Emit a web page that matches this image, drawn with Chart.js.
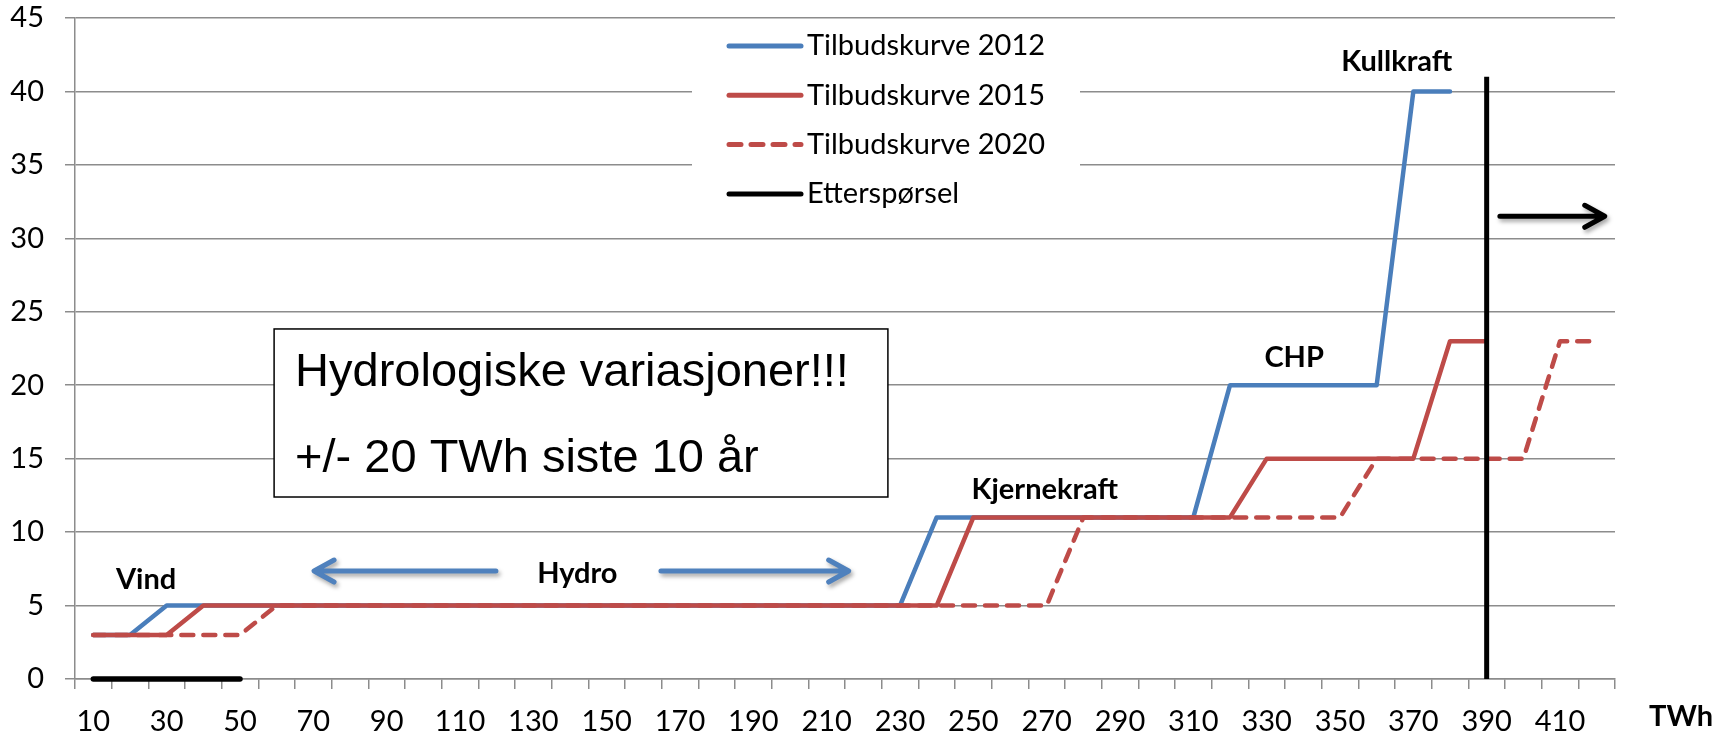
<!DOCTYPE html>
<html>
<head>
<meta charset="utf-8">
<script src="https://cdn.jsdelivr.net/npm/chart.js@4.4.0/dist/chart.umd.min.js"></script>
<style>
html, body { margin: 0; padding: 0; background: #fff; }
#wrap { width: 1727px; height: 736px; }
</style>
</head>
<body>
<div id="wrap"><canvas id="chart"></canvas></div>
<script>
// x categories (TWh)
const labels = ['10','20','30','40','50','60','70','80','90','100','110','120','130','140',
    '150','160','170','180','190','200','210','220','230','240','250','260','270','280',
    '290','300','310','320','330','340','350','360','370','380','390','400','410','420'];

// supply curves
const supply2012 = [3,3, 5,5,5,5,5,5,5,5,5,5, 5,5,5,5,5,5,5,5,5,5,5,
    11,11,11,11,11,11,11,11, 20,20,20,20,20, 40,40, null,null,null,null];
const supply2015 = [3,3,3, 5,5,5,5,5,5,5,5,5,5, 5,5,5,5,5,5,5,5,5,5,5,
    11,11,11,11,11,11,11,11, 15,15,15,15,15, 23,23, null,null,null];
const supply2020 = [3,3,3,3,3, 5,5,5,5,5,5,5,5,5,5, 5,5,5,5,5,5,5,5,5,5,5,5,
    11,11,11,11,11,11,11,11, 15,15,15,15,15, 23,23];
const demand = [0,0,0,0,0, null,null,null,null,null,null,null,null,null,null,null,null,
    null,null,null,null,null,null,null,null,null,null,null,null,null,null,null,null,
    null,null,null,null,null,null,null,null,null];

// vertical demand line
const demandLineX = '390';
const demandLineY = [0, 41];

const yTicks = [0, 5, 10, 15, 20, 25, 30, 35, 40, 45];

// text notes (category index, value)
const notes = [
    { text: 'Vind', x: 1.44, y: 6.74 },
    { text: 'Hydro', x: 13.2, y: 7.2 },
    { text: 'Kjernekraft', x: 25.95, y: 12.87 },
    { text: 'CHP', x: 32.75, y: 21.85 },
    { text: 'Kullkraft', x: 35.55, y: 42.0 }
];

// arrows (category index from/to, value)
const arrows = [
    { x1: 10.98, x2: 6.02, y: 7.35, color: '#4f81bd' },
    { x1: 15.48, x2: 20.6, y: 7.35, color: '#4f81bd' },
    { x1: 38.36, x2: 41.22, y: 31.5, color: '#000000' }
];

const boxLines = ['Hydrologiske variasjoner!!!', '+/- 20 TWh siste 10 år'];
const boxRange = { x1: 4.93, x2: 21.67, y1: 23.83, y2: 12.39 };

const BLUE = '#4a7ebb';
const RED = '#be4b48';
const GRID = '#8c8c8c';

Chart.defaults.font.family = 'Lato, "Open Sans", sans-serif';
Chart.defaults.font.size = 29;
Chart.defaults.color = '#000';

function drawArrow(ctx, x1, y, x2, color) {
    const dir = Math.sign(x2 - x1);
    ctx.save();
    ctx.strokeStyle = color;
    ctx.lineWidth = 5;
    ctx.lineCap = 'round';
    ctx.lineJoin = 'round';
    ctx.shadowColor = 'rgba(0,0,0,0.35)';
    ctx.shadowBlur = 4;
    ctx.shadowOffsetX = 2;
    ctx.shadowOffsetY = 3;
    ctx.beginPath();
    ctx.moveTo(x1, y);
    ctx.lineTo(x2 - dir * 2, y);
    ctx.moveTo(x2 - dir * 20, y - 11);
    ctx.lineTo(x2, y);
    ctx.lineTo(x2 - dir * 20, y + 11);
    ctx.stroke();
    ctx.restore();
}

const overlay = {
    id: 'overlay',
    beforeDatasetsDraw(chart) {
        const ctx = chart.ctx, a = chart.chartArea;
        // legend panel covers the gridlines
        ctx.save();
        ctx.fillStyle = '#fff';
        ctx.fillRect(a.left + 617, a.top + 4, 388, 198);
        ctx.restore();
    },
    afterDatasetsDraw(chart) {
        const ctx = chart.ctx, a = chart.chartArea;
        const xs = chart.scales.x, ys = chart.scales.y;

        // legend
        ctx.save();
        let row = 0;
        chart.data.datasets.forEach(ds => {
            if (ds.hideInLegend) return;
            const y = a.top + 28 + row * 49.3;
            ctx.beginPath();
            ctx.strokeStyle = ds.borderColor;
            ctx.lineWidth = 5;
            ctx.lineCap = 'round';
            ctx.setLineDash(ds.borderDash || []);
            ctx.moveTo(a.left + 654, y);
            ctx.lineTo(a.left + 726, y);
            ctx.stroke();
            ctx.setLineDash([]);
            ctx.fillStyle = '#000';
            ctx.font = '29px Lato';
            ctx.textAlign = 'left';
            ctx.textBaseline = 'middle';
            ctx.fillText(ds.label, a.left + 732, y);
            row++;
        });
        ctx.restore();

        // notes
        ctx.save();
        ctx.fillStyle = '#000';
        ctx.font = 'bold 29px Lato';
        ctx.textAlign = 'center';
        ctx.textBaseline = 'middle';
        notes.forEach(n => {
            ctx.fillText(n.text, xs.getPixelForValue(n.x), ys.getPixelForValue(n.y));
        });
        ctx.restore();

        // arrows
        arrows.forEach(ar => {
            drawArrow(ctx, xs.getPixelForValue(ar.x1), ys.getPixelForValue(ar.y),
                xs.getPixelForValue(ar.x2), ar.color);
        });

        // text box
        const bx1 = xs.getPixelForValue(boxRange.x1), bx2 = xs.getPixelForValue(boxRange.x2);
        const by1 = ys.getPixelForValue(boxRange.y1), by2 = ys.getPixelForValue(boxRange.y2);
        ctx.save();
        ctx.fillStyle = '#fff';
        ctx.fillRect(bx1, by1, bx2 - bx1, by2 - by1);
        ctx.strokeStyle = '#000';
        ctx.lineWidth = 1.5;
        ctx.strokeRect(bx1, by1, bx2 - bx1, by2 - by1);
        ctx.fillStyle = '#000';
        ctx.font = '47px "Liberation Sans", Arial, sans-serif';
        ctx.textAlign = 'left';
        ctx.textBaseline = 'alphabetic';
        const h = by2 - by1;
        ctx.fillText(boxLines[0], bx1 + 21, by1 + h * 0.339);
        ctx.fillText(boxLines[1], bx1 + 21, by1 + h * 0.851);
        ctx.restore();

        // axis unit
        ctx.save();
        ctx.fillStyle = '#000';
        ctx.font = 'bold 29px Lato';
        ctx.textAlign = 'center';
        ctx.textBaseline = 'middle';
        ctx.fillText('TWh', a.right + 66, a.bottom + 38);
        ctx.restore();
    }
};

new Chart(document.getElementById('chart'), {
    type: 'line',
    data: {
        labels: labels,
        datasets: [
            { label: 'Tilbudskurve 2012', data: supply2012, borderColor: BLUE, order: 4 },
            { label: 'Tilbudskurve 2015', data: supply2015, borderColor: RED, order: 2 },
            { label: 'Tilbudskurve 2020', data: supply2020, borderColor: RED, borderDash: [12, 10], order: 3 },
            { label: 'Etterspørsel', data: demand, borderColor: '#000', borderWidth: 5.5, clip: false, order: 1 },
            {
                label: 'Etterspørsel linje', hideInLegend: true, borderColor: '#000', order: 0,
                data: demandLineY.map(v => ({ x: demandLineX, y: v })), borderCapStyle: 'butt',
                borderWidth: 5, clip: false
            }
        ]
    },
    options: {
        responsive: true,
        maintainAspectRatio: false,
        animation: false,
        layout: { padding: { top: 18, right: 112, left: 0, bottom: 0 } },
        elements: {
            point: { radius: 0, hoverRadius: 0 },
            line: { borderWidth: 4.5, borderCapStyle: 'round', borderJoinStyle: 'round', tension: 0, fill: false }
        },
        plugins: {
            legend: { display: false },
            tooltip: { enabled: false }
        },
        scales: {
            x: {
                offset: true,
                grid: { drawOnChartArea: false, offset: true, tickLength: 10, color: GRID, lineWidth: 1.5 },
                border: { color: GRID, width: 1.5 },
                ticks: {
                    autoSkip: false,
                    maxRotation: 0,
                    padding: 15,
                    callback: (v, i) => (i % 2 === 0 ? labels[i] : '')
                },
                afterFit: s => { s.height = 57; }
            },
            y: {
                min: 0,
                max: 45,
                grid: { color: GRID, lineWidth: 1.5, tickLength: 10 },
                border: { color: GRID, width: 1.5 },
                ticks: { padding: 21, stepSize: 5 },
                afterBuildTicks: s => { s.ticks = yTicks.map(v => ({ value: v })); },
                afterFit: s => { s.width = 75; s.paddingTop = 0; s.paddingBottom = 0; }
            }
        }
    },
    plugins: [overlay]
});
</script>
</body>
</html>
